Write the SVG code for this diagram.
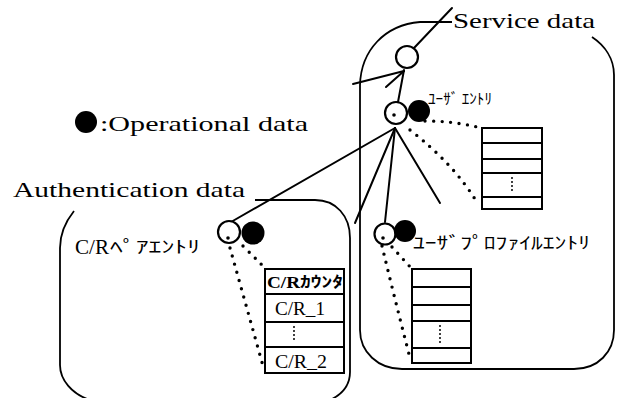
<svg xmlns="http://www.w3.org/2000/svg" width="618" height="398" viewBox="0 0 618 398">
  <style>
    .ln { fill: none; stroke: #000; stroke-width: 2; stroke-linecap: round; stroke-linejoin: round; }
    .box { fill: none; stroke: #000; stroke-width: 1.8; }
    .dot { fill: none; stroke: #000; stroke-width: 3.4; stroke-linecap: round; stroke-dasharray: 0 8.5; }
    .node { fill: #fff; stroke: #000; stroke-width: 2.2; }
    .op { fill: #000; }
    .tbl { fill: #fff; stroke: #000; stroke-width: 2; }
    .row { stroke: #000; stroke-width: 2; }
    .vd { stroke: #000; stroke-width: 2; stroke-linecap: round; stroke-dasharray: 0 4; }
    .serif { font-family: "Liberation Serif", "DejaVu Serif", serif; fill: #000; }
    .kana { font-family: "Noto Sans CJK JP", "Noto Sans", sans-serif; fill: #000; }
  </style>

  <!-- domain outlines -->
  <g id="service-domain">
    <path class="box" d="M452,22 L420,22 C385,25 361,50 360,85 L360,330 C360,352 378,369 402,369 L574,369 C598,369 614,352 614,330 L614,75 C614,58 604,45 592,37"/>
    <text class="serif" x="453" y="28" font-size="22" textLength="142" lengthAdjust="spacingAndGlyphs">Service data</text>
  </g>
  <g id="auth-domain">
    <path class="box" d="M74,211 C66,221 60,233 60,248 L60,365 C60,380 72,394 90,400 M330,400 C343,394 350,385 350,372 L350,238 C350,216 336,200 315,200 L255,200"/>
    <text class="serif" x="13" y="197" font-size="22" textLength="232" lengthAdjust="spacingAndGlyphs">Authentication data</text>
  </g>

  <!-- legend -->
  <g id="legend">
    <circle class="op" cx="86" cy="122" r="11"/>
    <text class="serif" x="100" y="131" font-size="22" textLength="208" lengthAdjust="spacingAndGlyphs">:Operational data</text>
  </g>

  <!-- tree connectors -->
  <g id="connectors">
    <line class="ln" x1="414" y1="48" x2="452" y2="8"/>
    <line class="ln" x1="404" y1="70" x2="398" y2="102"/>
    <line class="ln" x1="353" y1="84" x2="404" y2="71"/>
    <line class="ln" x1="386" y1="87" x2="404" y2="71"/>
    <line class="ln" x1="395" y1="128" x2="231" y2="222"/>
    <line class="ln" x1="395" y1="128" x2="355" y2="223"/>
    <line class="ln" x1="395" y1="128" x2="385" y2="222"/>
    <line class="ln" x1="395" y1="128" x2="440" y2="203"/>
    <!-- links to the data tables -->
    <path class="dot" d="M425,121 Q455,121 481,128"/>
    <path class="dot" d="M410,130 Q455,165 478,204"/>
    <path class="dot" d="M382,246 Q395,300 410,358"/>
    <path class="dot" d="M392,247 Q402,258 412,269"/>
    <path class="dot" d="M230,248 Q246,305 263,366"/>
    <path class="dot" d="M243,246 Q254,257 264,267"/>
  </g>

  <!-- root of the service tree -->
  <g id="service-root">
    <circle class="node" cx="407" cy="57" r="11"/>
  </g>

  <g id="user-entry">
    <circle class="node" cx="396" cy="113" r="11"/>
    <circle class="op" cx="394" cy="115" r="1.8"/>
    <circle class="op" cx="419" cy="111" r="11"/>
    <text class="kana" x="428" y="104" font-size="15" textLength="64" lengthAdjust="spacingAndGlyphs">ﾕｰｻﾞ ｴﾝﾄﾘ</text>
  </g>

  <g id="user-table">
    <rect class="tbl" x="482" y="128" width="60" height="81"/>
    <line class="row" x1="482" y1="143" x2="542" y2="143"/>
    <line class="row" x1="482" y1="159" x2="542" y2="159"/>
    <line class="row" x1="482" y1="173" x2="542" y2="173"/>
    <line class="row" x1="482" y1="197" x2="542" y2="197"/>
    <line class="vd" x1="512" y1="178" x2="512" y2="192"/>
  </g>

  <g id="profile-entry">
    <circle class="node" cx="385" cy="234" r="10.5"/>
    <circle class="op" cx="383" cy="238" r="1.8"/>
    <circle class="op" cx="405" cy="231" r="11"/>
    <text class="kana" x="413" y="249" font-size="17" textLength="177" lengthAdjust="spacingAndGlyphs">ﾕｰｻﾞﾌﾟﾛﾌｧｲﾙｴﾝﾄﾘ</text>
  </g>

  <g id="profile-table">
    <rect class="tbl" x="412" y="269" width="59" height="94"/>
    <line class="row" x1="412" y1="287" x2="471" y2="287"/>
    <line class="row" x1="412" y1="305" x2="471" y2="305"/>
    <line class="row" x1="412" y1="321" x2="471" y2="321"/>
    <line class="row" x1="412" y1="348" x2="471" y2="348"/>
    <line class="vd" x1="440" y1="326" x2="440" y2="344"/>
  </g>

  <g id="cr-pair-entry">
    <circle class="node" cx="229" cy="232" r="11"/>
    <circle class="op" cx="228" cy="238" r="1.8"/>
    <circle class="op" cx="253" cy="233" r="11.5"/>
    <text class="serif" x="75" y="254" font-size="22" textLength="34" lengthAdjust="spacingAndGlyphs">C/R</text>
    <text class="kana" x="110" y="253" font-size="17" textLength="90" lengthAdjust="spacingAndGlyphs">ﾍﾟｱｴﾝﾄﾘ</text>
  </g>

  <g id="cr-table">
    <rect class="tbl" x="265" y="269" width="79" height="104"/>
    <line class="row" x1="265" y1="294" x2="344" y2="294"/>
    <line class="row" x1="265" y1="322" x2="344" y2="322"/>
    <line class="row" x1="265" y1="347" x2="344" y2="347"/>
    <text class="serif" x="267" y="288" font-size="17" font-weight="bold" textLength="33" lengthAdjust="spacingAndGlyphs">C/R</text>
    <text class="kana" x="300" y="287" font-size="15" font-weight="bold" textLength="43" lengthAdjust="spacingAndGlyphs">ｶｳﾝﾀ</text>
    <text class="serif" x="275" y="315" font-size="19" textLength="50" lengthAdjust="spacingAndGlyphs">C/R_1</text>
    <line class="vd" x1="294" y1="327" x2="294" y2="343"/>
    <text class="serif" x="275" y="368" font-size="19" textLength="52" lengthAdjust="spacingAndGlyphs">C/R_2</text>
  </g>
</svg>
